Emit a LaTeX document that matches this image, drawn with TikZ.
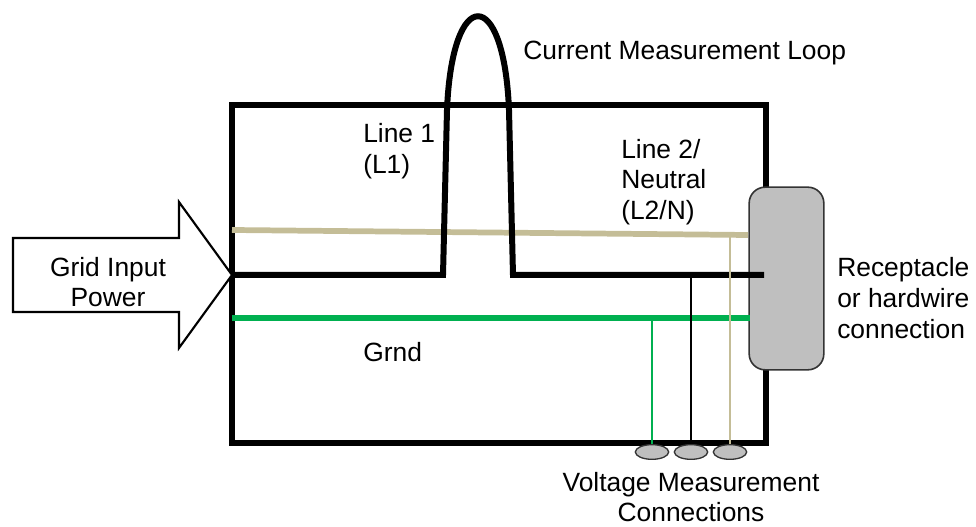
\documentclass[tikz,border=0pt]{standalone}
\usepackage{fontspec}
\usetikzlibrary{shapes.geometric}
\setmainfont{Liberation Sans}
\definecolor{tanw}{HTML}{C4BD97}
\definecolor{grnw}{HTML}{00B050}
\definecolor{recg}{HTML}{BFBFBF}
\begin{document}
\begin{tikzpicture}[x=0.75pt,y=-0.75pt,
  lbl/.style={font=\fontsize{19.8}{23}\selectfont,inner sep=0pt},
  thickblk/.style={line width=4.5pt,black},
  tanwire/.style={line width=4.3pt,tanw},
  grnwire/.style={line width=3.9pt,grnw},
  thin/.style={line width=2.2pt},
  vconn/.style={draw=black!80,line width=1pt,fill=recg,ellipse,minimum width=25pt,minimum height=11pt,inner sep=0pt}]
\useasboundingbox (0,0) rectangle (976,527);
% box
\draw[thickblk,line join=miter] (232,105) rectangle (766,443);
% arrow
\draw[line width=1.6pt,fill=white,line join=miter] (13,238) -- (179,238) -- (179,202) -- (232,275) -- (179,348) -- (179,312) -- (13,312) -- cycle;
\node[lbl,align=center] (grid) at (108,282) {Grid Input\\Power};
% receptacle
\node[draw=black!80,line width=1.2pt,fill=recg,rounded corners=12pt,minimum width=56pt,minimum height=137pt,inner sep=0pt] (rec) at (786.5,278.5) {};
% coordinates
\coordinate (l1a) at (232,275);
\coordinate (l1b) at (443,275);
\coordinate (l1c) at (513,275);
\coordinate (l1d) at (764,275);
\coordinate (tana) at (232,230);
\coordinate (tanb) at (748,235);
\coordinate (grna) at (232,318);
\coordinate (grnb) at (750,318);
% ellipses
\node[vconn] (v1) at (652,452) {};
\node[vconn] (v2) at (691,452) {};
\node[vconn] (v3) at (730,452) {};
% wires
\draw[tanwire] (tana) -- (tanb);
\draw[grnwire] (grna) -- (grnb);
\draw[thickblk,line join=miter] (l1a) -- (l1b) -- (447,110) .. controls (452,-15) and (504,-15) .. (509,110) -- (l1c) -- (l1d);
\draw[thin,tanw] (730,235) -- (v3.north);
\draw[thin,grnw] (652,318) -- (v1.north);
\draw[thin,black] (691,275) -- (v2.north);
% labels
\node[lbl,anchor=west] (cml) at (523,53) {Current Measurement Loop};
\node[lbl,anchor=west,align=left] (line1) at (363,151) {Line 1\\(L1)};
\node[lbl,anchor=west,align=left] (line2) at (621,182) {Line 2/\\Neutral\\(L2/N)};
\node[lbl,anchor=west,align=left] (rect) at (837,298) {Receptacle\\or hardwire\\connection};
\node[lbl,anchor=west] (grnd) at (363,352) {Grnd};
\node[lbl,align=center] (vmc) at (691,497) {Voltage Measurement\\Connections};
\end{tikzpicture}
\end{document}
